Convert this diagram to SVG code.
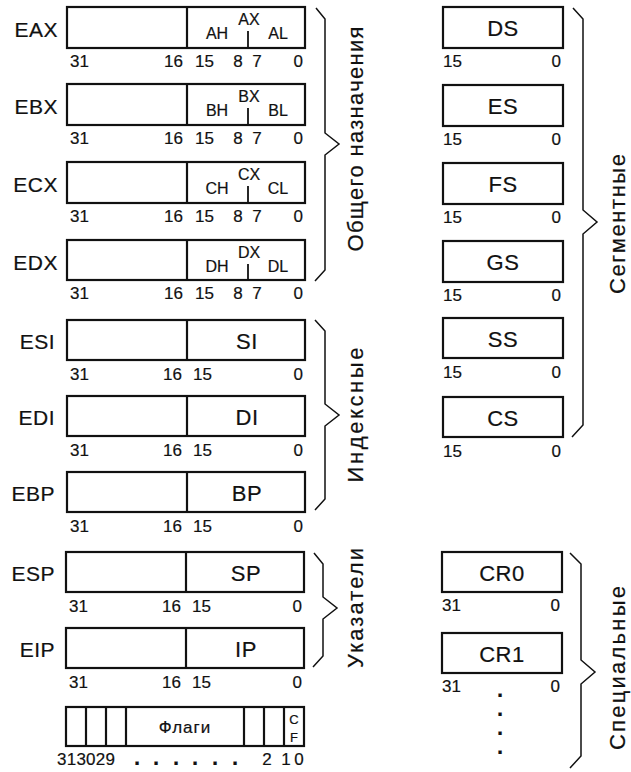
<svg xmlns="http://www.w3.org/2000/svg" width="631" height="772" viewBox="0 0 631 772">
<style>
text{font-family:"Liberation Sans",Arial,sans-serif;fill:#111;stroke:#111;stroke-width:0.2px}
.box{fill:#fff;stroke:#111;stroke-width:2.2}
.dv{stroke:#111;stroke-width:2.2}
.tk{stroke:#111;stroke-width:1.8}
.brace{fill:none;stroke:#111;stroke-width:1.5;stroke-linejoin:miter}
.rl{font-size:21px;text-anchor:end;letter-spacing:0.5px}
.in{font-size:22px;text-anchor:middle;letter-spacing:0.5px}
.sub{font-size:16px;text-anchor:middle}
.num{font-size:17px}
.ne{font-size:17px;text-anchor:end}
.nm{font-size:17px;text-anchor:middle}
.vt{font-size:22px;text-anchor:middle}
.dot{font-size:22px;font-weight:bold}
</style>
<rect width="631" height="772" fill="#fff"/>

<g id="EAX">
<text class="rl" x="58" y="37">EAX</text>
<rect class="box" x="67" y="7" width="238" height="41"/>
<line class="dv" x1="187" y1="7" x2="187" y2="48"/>
<line class="tk" x1="248" y1="31" x2="248" y2="48"/>
<text class="sub" x="249" y="25">AX</text><text class="sub" x="217" y="39">AH</text><text class="sub" x="278" y="39">AL</text>
<text class="num" x="70" y="67">31</text><text class="ne" x="183" y="67">16</text><text class="num" x="195" y="67">15</text><text class="nm" x="238" y="67">8</text><text class="nm" x="257" y="67">7</text><text class="ne" x="303" y="67">0</text>
</g>
<g id="EBX">
<text class="rl" x="58" y="114">EBX</text>
<rect class="box" x="67" y="84" width="238" height="41"/>
<line class="dv" x1="187" y1="84" x2="187" y2="125"/>
<line class="tk" x1="248" y1="108" x2="248" y2="125"/>
<text class="sub" x="249" y="102">BX</text><text class="sub" x="217" y="116">BH</text><text class="sub" x="278" y="116">BL</text>
<text class="num" x="70" y="144">31</text><text class="ne" x="183" y="144">16</text><text class="num" x="195" y="144">15</text><text class="nm" x="238" y="144">8</text><text class="nm" x="257" y="144">7</text><text class="ne" x="303" y="144">0</text>
</g>
<g id="ECX">
<text class="rl" x="58" y="192">ECX</text>
<rect class="box" x="67" y="162" width="238" height="41"/>
<line class="dv" x1="187" y1="162" x2="187" y2="203"/>
<line class="tk" x1="248" y1="186" x2="248" y2="203"/>
<text class="sub" x="249" y="180">CX</text><text class="sub" x="217" y="194">CH</text><text class="sub" x="278" y="194">CL</text>
<text class="num" x="70" y="222">31</text><text class="ne" x="183" y="222">16</text><text class="num" x="195" y="222">15</text><text class="nm" x="238" y="222">8</text><text class="nm" x="257" y="222">7</text><text class="ne" x="303" y="222">0</text>
</g>
<g id="EDX">
<text class="rl" x="58" y="270">EDX</text>
<rect class="box" x="67" y="240" width="238" height="40"/>
<line class="dv" x1="187" y1="240" x2="187" y2="280"/>
<line class="tk" x1="248" y1="264" x2="248" y2="280"/>
<text class="sub" x="249" y="258">DX</text><text class="sub" x="217" y="272">DH</text><text class="sub" x="278" y="272">DL</text>
<text class="num" x="70" y="299">31</text><text class="ne" x="183" y="299">16</text><text class="num" x="195" y="299">15</text><text class="nm" x="238" y="299">8</text><text class="nm" x="257" y="299">7</text><text class="ne" x="303" y="299">0</text>
</g>

<g id="ESI">
<text class="rl" x="55" y="349">ESI</text>
<rect class="box" x="67" y="320" width="238" height="40"/>
<line class="dv" x1="187" y1="320" x2="187" y2="360"/>
<text class="in" x="247" y="349">SI</text>
<text class="num" x="70" y="380">31</text><text class="ne" x="182" y="380">16</text><text class="num" x="193" y="380">15</text><text class="ne" x="303" y="380">0</text>
</g>
<g id="EDI">
<text class="rl" x="55" y="425">EDI</text>
<rect class="box" x="67" y="396" width="238" height="40"/>
<line class="dv" x1="187" y1="396" x2="187" y2="436"/>
<text class="in" x="247" y="425">DI</text>
<text class="num" x="70" y="456">31</text><text class="ne" x="182" y="456">16</text><text class="num" x="193" y="456">15</text><text class="ne" x="303" y="456">0</text>
</g>
<g id="EBP">
<text class="rl" x="55" y="501">EBP</text>
<rect class="box" x="67" y="472" width="238" height="40"/>
<line class="dv" x1="187" y1="472" x2="187" y2="512"/>
<text class="in" x="247" y="501">BP</text>
<text class="num" x="70" y="532">31</text><text class="ne" x="182" y="532">16</text><text class="num" x="193" y="532">15</text><text class="ne" x="303" y="532">0</text>
</g>

<g id="ESP">
<text class="rl" x="55" y="581">ESP</text>
<rect class="box" x="66" y="552" width="238" height="40"/>
<line class="dv" x1="186" y1="552" x2="186" y2="592"/>
<text class="in" x="246" y="581">SP</text>
<text class="num" x="69" y="612">31</text><text class="ne" x="181" y="612">16</text><text class="num" x="192" y="612">15</text><text class="ne" x="302" y="612">0</text>
</g>
<g id="EIP">
<text class="rl" x="55" y="657">EIP</text>
<rect class="box" x="66" y="628" width="238" height="40"/>
<line class="dv" x1="186" y1="628" x2="186" y2="668"/>
<text class="in" x="246" y="657">IP</text>
<text class="num" x="69" y="688">31</text><text class="ne" x="181" y="688">16</text><text class="num" x="192" y="688">15</text><text class="ne" x="302" y="688">0</text>
</g>

<g id="FLAGS">
<rect class="box" x="66" y="707" width="238" height="39"/>
<line class="dv" x1="86" y1="707" x2="86" y2="746"/>
<line class="dv" x1="106" y1="707" x2="106" y2="746"/>
<line class="dv" x1="126" y1="707" x2="126" y2="746"/>
<line class="dv" x1="244" y1="707" x2="244" y2="746"/>
<line class="dv" x1="264" y1="707" x2="264" y2="746"/>
<line class="dv" x1="284" y1="707" x2="284" y2="746"/>
<text x="185" y="733" style="font-size:17px;text-anchor:middle;letter-spacing:1px">Флаги</text>
<text x="294" y="724" style="font-size:13px;text-anchor:middle">C</text>
<text x="294" y="742" style="font-size:13px;text-anchor:middle">F</text>
<text class="num" x="57" y="765" textLength="58">313029</text>
<text class="dot" x="134 153 173 192 212 232" y="765">......</text>
<text class="nm" x="267" y="765">2</text><text class="nm" x="286" y="765">1</text><text class="nm" x="299" y="765">0</text>
</g>

<g id="DS">
<rect class="box" x="443" y="7" width="120" height="41"/>
<text class="in" x="503" y="36">DS</text>
<text class="num" x="443" y="67">15</text><text class="ne" x="561" y="67">0</text>
</g>
<g id="ES">
<rect class="box" x="443" y="85" width="120" height="41"/>
<text class="in" x="503" y="114">ES</text>
<text class="num" x="443" y="145">15</text><text class="ne" x="561" y="145">0</text>
</g>
<g id="FS">
<rect class="box" x="443" y="163" width="120" height="41"/>
<text class="in" x="503" y="192">FS</text>
<text class="num" x="443" y="223">15</text><text class="ne" x="561" y="223">0</text>
</g>
<g id="GS">
<rect class="box" x="443" y="241" width="120" height="41"/>
<text class="in" x="503" y="270">GS</text>
<text class="num" x="443" y="301">15</text><text class="ne" x="561" y="301">0</text>
</g>
<g id="SS">
<rect class="box" x="443" y="318" width="120" height="40"/>
<text class="in" x="503" y="347">SS</text>
<text class="num" x="443" y="378">15</text><text class="ne" x="561" y="378">0</text>
</g>
<g id="CS">
<rect class="box" x="443" y="397" width="120" height="40"/>
<text class="in" x="503" y="426">CS</text>
<text class="num" x="443" y="457">15</text><text class="ne" x="561" y="457">0</text>
</g>

<g id="CR0">
<rect class="box" x="442" y="552" width="120" height="40"/>
<text class="in" x="502" y="581">CR0</text>
<text class="num" x="442" y="611">31</text><text class="ne" x="560" y="611">0</text>
</g>
<g id="CR1">
<rect class="box" x="442" y="633" width="120" height="40"/>
<text class="in" x="502" y="662">CR1</text>
<text class="num" x="442" y="692">31</text><text class="ne" x="560" y="692">0</text>
<text class="dot" x="497 497 497 497" y="697 716 735 754">....</text>
</g>

<g id="braces">
<path class="brace" d="M316,8 L325,19 L325,133 L339,144 L325,155 L325,270 L315,281"/>
<path class="brace" d="M315,320 L325,331 L325,404 L339,415 L325,426 L325,499 L315,510"/>
<path class="brace" d="M314,553 L323,564 L323,597 L337,608 L323,619 L323,656 L313,667"/>
<path class="brace" d="M573,8 L583,19 L583,210 L597,222 L583,234 L583,425 L572,437"/>
<path class="brace" d="M570,553 L581,564 L581,660 L595,672 L581,684 L581,756 L570,768"/>
</g>

<g id="group-labels">
<text class="vt" transform="translate(363,139) rotate(-90)" textLength="225">Общего назначения</text>
<text class="vt" transform="translate(363,415) rotate(-90)" textLength="135">Индексные</text>
<text class="vt" transform="translate(363,608) rotate(-90)" textLength="120">Указатели</text>
<text class="vt" transform="translate(625,224) rotate(-90)" textLength="140">Сегментные</text>
<text class="vt" transform="translate(625,668) rotate(-90)" textLength="164">Специальные</text>
</g>
</svg>
